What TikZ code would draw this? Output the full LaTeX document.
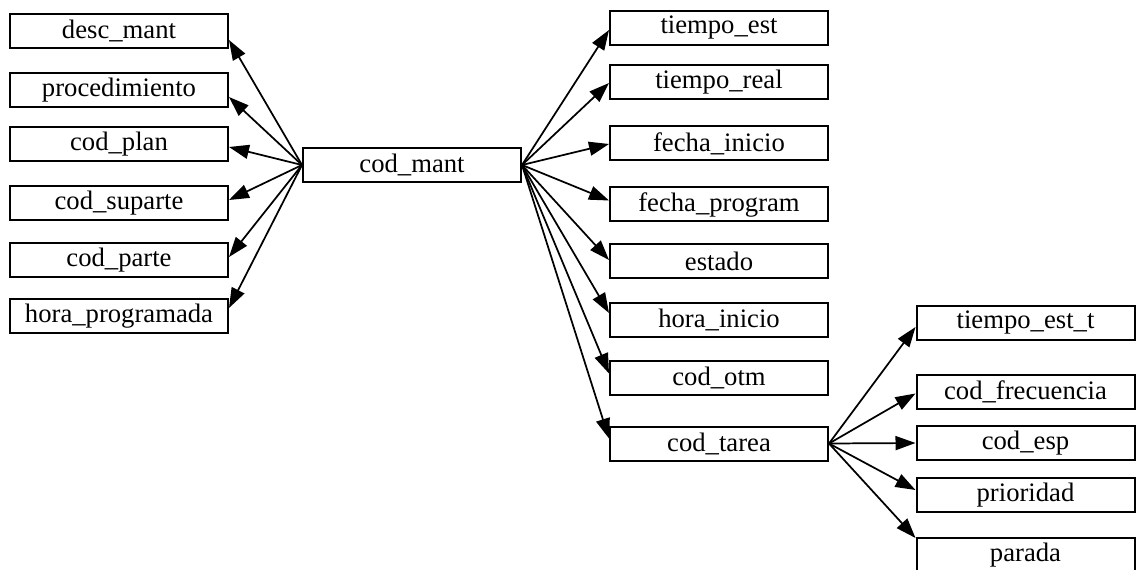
\documentclass[tikz,border=0pt]{standalone}
\usepackage{fontspec}
\setmainfont{Liberation Serif}
\usetikzlibrary{arrows.meta,calc}
\begin{document}
\begin{tikzpicture}[x=0.75pt,y=-0.75pt,
  field/.style={draw,line width=1.5pt,minimum width=163.5pt,minimum height=25.5pt,
    inner sep=0pt,font=\fontsize{20}{24}\selectfont},
  link/.style={line width=1.3pt,-{Triangle[length=15pt,width=10.5pt]}}]
\useasboundingbox (0,0) rectangle (1137,570);

% central key
\node[field] (cm) at (412,165) {cod\_mant};

% left column
\node[field] (desc)  at (119,31)  {desc\_mant};
\node[field] (proc)  at (119,90)  {procedimiento};
\node[field] (plan)  at (119,144.5) {cod\_plan};
\node[field] (supa)  at (119,203) {cod\_suparte};
\node[field] (parte) at (119,260) {cod\_parte};
\node[field] (hprog) at (119,316) {hora\_programada};

% right column
\node[field] (test)  at (719,28)    {tiempo\_est};
\node[field] (treal) at (719,82.5)  {tiempo\_real};
\node[field] (fini)  at (719,143.5) {fecha\_inicio};
\node[field] (fprog) at (719,204.5) {fecha\_program};
\node[field] (est)   at (719,261)   {estado};
\node[field] (hini)  at (719,320)   {hora\_inicio};
\node[field] (otm)   at (719,377.5) {cod\_otm};
\node[field] (tarea) at (719,443.5) {cod\_tarea};

% task attributes
\node[field] (testt) at (1025.5,323)   {tiempo\_est\_t};
\node[field] (frec)  at (1025.5,391.5) {cod\_frecuencia};
\node[field] (esp)   at (1025.5,443)   {cod\_esp};
\node[field] (prio)  at (1025.5,495)   {prioridad};
\node[field] (par)   at (1025.5,555)   {parada};

% edges to the left
\draw[link] (cm.west) -- ($(desc.east)+(0,9)$);
\draw[link] (cm.west) -- ($(proc.east)+(0,7)$);
\draw[link] (cm.west) -- ($(plan.east)+(0,2.5)$);
\draw[link] (cm.west) -- ($(supa.east)+(0,-3)$);
\draw[link] (cm.west) -- ($(parte.east)+(0,-3)$);
\draw[link] (cm.west) -- ($(hprog.east)+(0,-8)$);

% edges to the right
\draw[link] (cm.east) -- ($(test.west)+(0,2)$);
\draw[link] (cm.east) -- ($(treal.west)+(0,0.5)$);
\draw[link] (cm.east) -- ($(fini.west)+(0,0.5)$);
\draw[link] (cm.east) -- ($(fprog.west)+(0,-4)$);
\draw[link] (cm.east) -- ($(est.west)+(0,-1)$);
\draw[link] (cm.east) -- ($(hini.west)+(0,-7)$);
\draw[link] (cm.east) -- ($(otm.west)+(0,-4)$);
\draw[link] (cm.east) -- ($(tarea.west)+(0,-5)$);

% edges from cod_tarea
\draw[link] (tarea.east) -- ($(testt.west)+(0,4)$);
\draw[link] (tarea.east) -- ($(frec.west)+(0,2)$);
\draw[link] (tarea.east) -- (esp.west);
\draw[link] (tarea.east) -- ($(prio.west)+(0,-5)$);
\draw[link] (tarea.east) -- ($(par.west)+(0,-17)$);
\end{tikzpicture}
\end{document}
